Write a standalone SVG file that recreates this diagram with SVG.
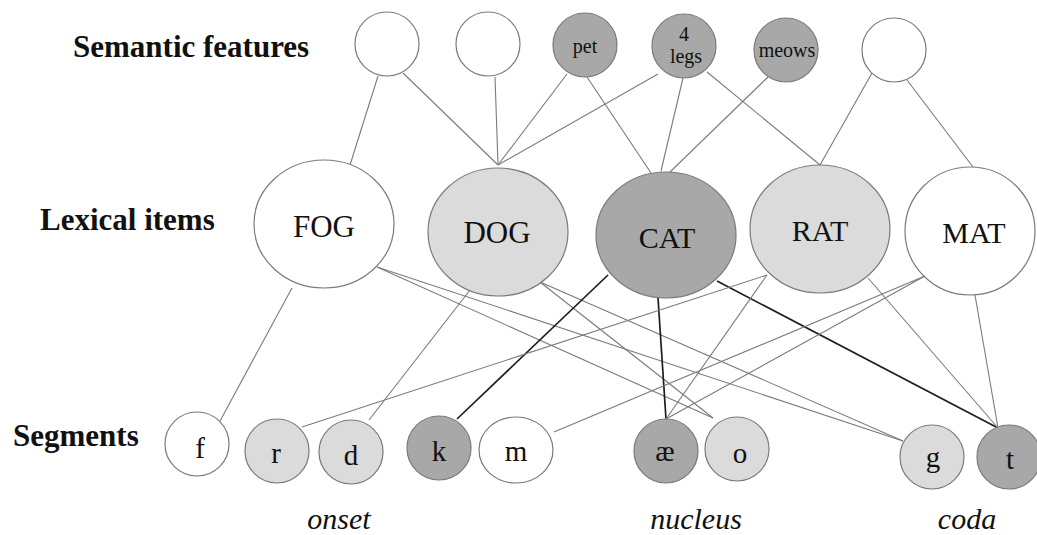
<svg xmlns="http://www.w3.org/2000/svg" width="1037" height="535" viewBox="0 0 1037 535">
<style>
.n{stroke:#7a7a7a;stroke-width:1.2}
.w{fill:#ffffff}
.l{fill:#dbdbdb}
.d{fill:#a8a8a8}
.t{font-family:"Liberation Serif","Times New Roman",serif;fill:#111;text-anchor:middle}
.h{font-family:"Liberation Serif","Times New Roman",serif;font-weight:bold;fill:#111}
.i{font-family:"Liberation Serif","Times New Roman",serif;font-style:italic;fill:#111;text-anchor:middle;font-size:30px}
.c line{stroke:#7a7a7a;stroke-width:1.1}
.c line.k{stroke:#1e1e1e;stroke-width:1.7}
</style>
<rect width="1037" height="535" fill="#ffffff"/>
<g id="labels">
<text class="h" x="73" y="57" font-size="31">Semantic features</text>
<text class="h" x="40" y="230" font-size="31">Lexical items</text>
<text class="h" x="13" y="446" font-size="31">Segments</text>
<text class="i" x="339" y="529">onset</text>
<text class="i" x="696" y="529">nucleus</text>
<text class="i" x="967" y="529">coda</text>
</g>
<g id="connectors" class="c">
<line x1="378" y1="76" x2="350" y2="165"/>
<line x1="403" y1="73" x2="498" y2="165"/>
<line x1="495" y1="77" x2="498" y2="165"/>
<line x1="567" y1="74" x2="498" y2="165"/>
<line x1="658" y1="74" x2="498" y2="165"/>
<line x1="587" y1="77" x2="651" y2="173"/>
<line x1="683" y1="78" x2="661" y2="171"/>
<line x1="707" y1="72" x2="820" y2="165"/>
<line x1="768" y1="77" x2="670" y2="172"/>
<line x1="872" y1="73" x2="820" y2="165"/>
<line x1="907" y1="80" x2="973" y2="167"/>
<line x1="292" y1="288" x2="220" y2="421"/>
<line x1="377" y1="267" x2="713" y2="418"/>
<line x1="377" y1="267" x2="903" y2="441"/>
<line x1="470" y1="290" x2="369" y2="420"/>
<line x1="540" y1="282" x2="713" y2="418"/>
<line x1="540" y1="282" x2="903" y2="441"/>
<line class="k" x1="608" y1="275" x2="457" y2="419"/>
<line class="k" x1="658" y1="298" x2="666" y2="419"/>
<line class="k" x1="717" y1="281" x2="998" y2="428"/>
<line x1="767" y1="275" x2="302" y2="427"/>
<line x1="767" y1="275" x2="666" y2="419"/>
<line x1="868" y1="278" x2="998" y2="428"/>
<line x1="925" y1="276" x2="554" y2="432"/>
<line x1="925" y1="276" x2="666" y2="419"/>
<line x1="975" y1="295" x2="998" y2="428"/>
</g>
<g id="sf1"><circle class="n w" cx="387" cy="44" r="32"/></g>
<g id="sf2"><circle class="n w" cx="488" cy="44" r="32"/></g>
<g id="sf-pet"><circle class="n d" cx="585" cy="45" r="32"/><text class="t" x="585" y="53" font-size="20">pet</text></g>
<g id="sf-4legs"><circle class="n d" cx="684" cy="46" r="32"/><text class="t" x="684" y="41" font-size="20">4</text><text class="t" x="686" y="63" font-size="20">legs</text></g>
<g id="sf-meows"><circle class="n d" cx="786" cy="50" r="32"/><text class="t" x="787" y="57" font-size="20">meows</text></g>
<g id="sf6"><circle class="n w" cx="894" cy="50" r="32"/></g>
<g id="lex-fog"><ellipse class="n w" cx="324" cy="224" rx="70" ry="64"/><text class="t" x="324" y="237" font-size="31">FOG</text></g>
<g id="lex-dog"><ellipse class="n l" cx="498" cy="232" rx="70" ry="64"/><text class="t" x="497" y="243" font-size="31">DOG</text></g>
<g id="lex-cat"><ellipse class="n d" cx="666" cy="235" rx="70" ry="63"/><text class="t" x="667" y="248" font-size="30">CAT</text></g>
<g id="lex-rat"><ellipse class="n l" cx="820" cy="229" rx="70" ry="64"/><text class="t" x="820" y="241" font-size="30">RAT</text></g>
<g id="lex-mat"><ellipse class="n w" cx="970" cy="231" rx="65" ry="64"/><text class="t" x="974" y="243" font-size="30">MAT</text></g>
<g id="seg-f"><circle class="n w" cx="197" cy="444" r="32"/><text class="t" x="200" y="458" font-size="29">f</text></g>
<g id="seg-r"><circle class="n l" cx="277" cy="451" r="32"/><text class="t" x="276" y="463" font-size="29">r</text></g>
<g id="seg-d"><circle class="n l" cx="351" cy="452" r="32"/><text class="t" x="351" y="465" font-size="29">d</text></g>
<g id="seg-k"><circle class="n d" cx="439" cy="448" r="32"/><text class="t" x="439" y="461" font-size="29">k</text></g>
<g id="seg-m"><ellipse class="n w" cx="516" cy="450" rx="37" ry="33"/><text class="t" x="516" y="461" font-size="29">m</text></g>
<g id="seg-ae"><circle class="n d" cx="666" cy="451" r="32"/><text class="t" x="665" y="461" font-size="29">æ</text></g>
<g id="seg-o"><circle class="n l" cx="737" cy="449" r="32"/><text class="t" x="740" y="463" font-size="29">o</text></g>
<g id="seg-g"><circle class="n l" cx="932" cy="457" r="32"/><text class="t" x="933" y="467" font-size="29">g</text></g>
<g id="seg-t"><circle class="n d" cx="1009" cy="457" r="32"/><text class="t" x="1010" y="469" font-size="29">t</text></g>
</svg>
